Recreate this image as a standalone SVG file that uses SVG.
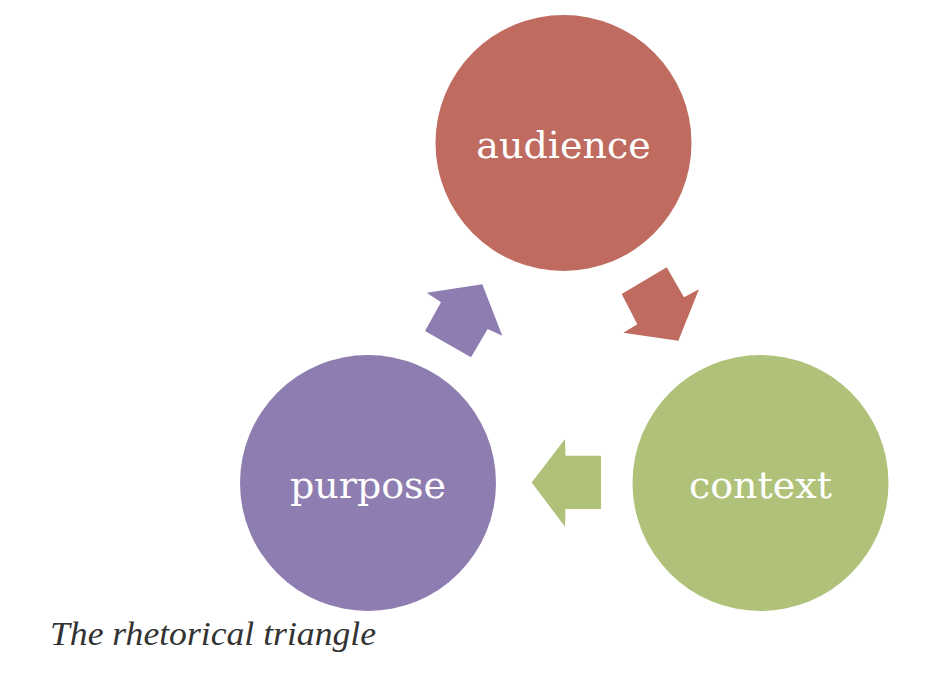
<svg xmlns="http://www.w3.org/2000/svg" width="938" height="688" viewBox="0 0 938 688">
<style>
.lbl{font-family:"DejaVu Serif","Liberation Serif",serif;font-size:38px;fill:#fff;text-anchor:middle}
.cap{font-family:"Liberation Serif","DejaVu Serif",serif;font-style:italic;font-size:33px;fill:#333}
</style>
<rect width="938" height="688" fill="#fff"/>
<g id="connectors">
<polygon points="426.7,292.7 482.3,284.3 502.3,335.7 487.7,329 471,357.3 425,331 441,302.3" fill="#8E7DB0"/>
<polygon points="666.7,267.3 684,297.3 699,289.3 678.3,340.7 623.3,332.7 637.3,324.3 621.7,294" fill="#C06B60"/>
<polygon points="531.7,482.5 565,439 565.5,455.7 601,455.7 601,509 565.5,509 565,526.7" fill="#B0C27A"/>
</g>
<g id="audience">
<circle cx="563.5" cy="143" r="128" fill="#C06B60"/>
<text class="lbl" x="563.5" y="158">audience</text>
</g>
<g id="context">
<circle cx="760.5" cy="483" r="128" fill="#B0C27A"/>
<text class="lbl" x="760.5" y="498">context</text>
</g>
<g id="purpose">
<circle cx="368" cy="483" r="128" fill="#8E7DB0"/>
<text class="lbl" x="368" y="498">purpose</text>
</g>
<text class="cap" x="50" y="645" textLength="326" lengthAdjust="spacingAndGlyphs">The rhetorical triangle</text>
</svg>
